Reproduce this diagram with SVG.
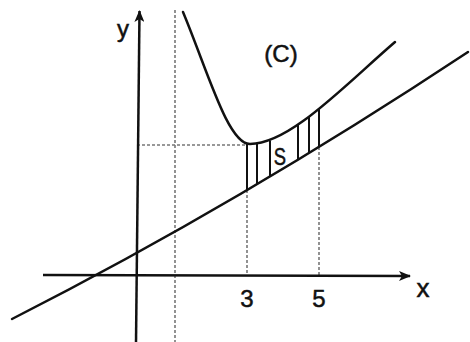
<svg xmlns="http://www.w3.org/2000/svg" width="470" height="342" viewBox="0 0 470 342">
  <defs>
    <style>
      .ax { stroke: #111; stroke-width: 2.5; fill: none; }
      .crv { stroke: #111; stroke-width: 2.5; fill: none; stroke-linecap: round; }
      .dash { stroke: #777; stroke-width: 1.6; fill: none; stroke-dasharray: 3 2; }
      .hatch { stroke: #111; stroke-width: 2; fill: none; }
      .lbl { font-family: "Liberation Sans", Arial, Helvetica, sans-serif; fill: #111; stroke: #111; stroke-width: 0.5; text-anchor: middle; }
    </style>
    <marker id="arr" viewBox="0 0 12 10" refX="11" refY="5" markerWidth="12" markerHeight="10" markerUnits="userSpaceOnUse" orient="auto">
      <path d="M0,0 L12,5 L0,10 L3,5 Z" fill="#111"/>
    </marker>
  </defs>
  <rect width="470" height="342" fill="#fff"/>

  <g id="guides">
    <line class="dash" x1="175" y1="10" x2="175" y2="342"/>
    <line class="dash" x1="137" y1="145" x2="247" y2="145"/>
    <line class="dash" x1="247" y1="190" x2="247" y2="276"/>
    <line class="dash" x1="319" y1="147" x2="319" y2="276"/>
  </g>

  <g id="axes">
    <line class="ax" x1="43" y1="275" x2="410" y2="276" marker-end="url(#arr)"/>
    <line class="ax" x1="136" y1="342" x2="139.5" y2="11" marker-end="url(#arr)"/>
  </g>

  <g id="hatch">
    <line class="hatch" x1="247" y1="144" x2="247" y2="190"/>
    <line class="hatch" x1="257" y1="143.6" x2="257" y2="184"/>
    <line class="hatch" x1="270" y1="140.5" x2="270" y2="176.5"/>
    <line class="hatch" x1="298" y1="124.5" x2="298" y2="160"/>
    <line class="hatch" x1="309" y1="116.5" x2="309" y2="153"/>
    <line class="hatch" x1="319" y1="109" x2="319" y2="147"/>
  </g>

  <g id="curves">
    <path class="crv" d="M12,319 Q240,203 468,52"/>
    <path class="crv" d="M183,12 C208,72 228,144 250,144 C290,144 345,85 395,42"/>
  </g>

  <g id="labels">
    <text class="lbl" x="123" y="37" font-size="24">y</text>
    <text class="lbl" x="281" y="62" font-size="24">(C)</text>
    <text class="lbl" x="350" y="165" font-size="23" transform="scale(0.8,1)">S</text>
    <text class="lbl" x="247" y="307" font-size="24">3</text>
    <text class="lbl" x="319" y="307" font-size="24">5</text>
    <text class="lbl" x="423" y="297" font-size="26">x</text>
  </g>
</svg>
